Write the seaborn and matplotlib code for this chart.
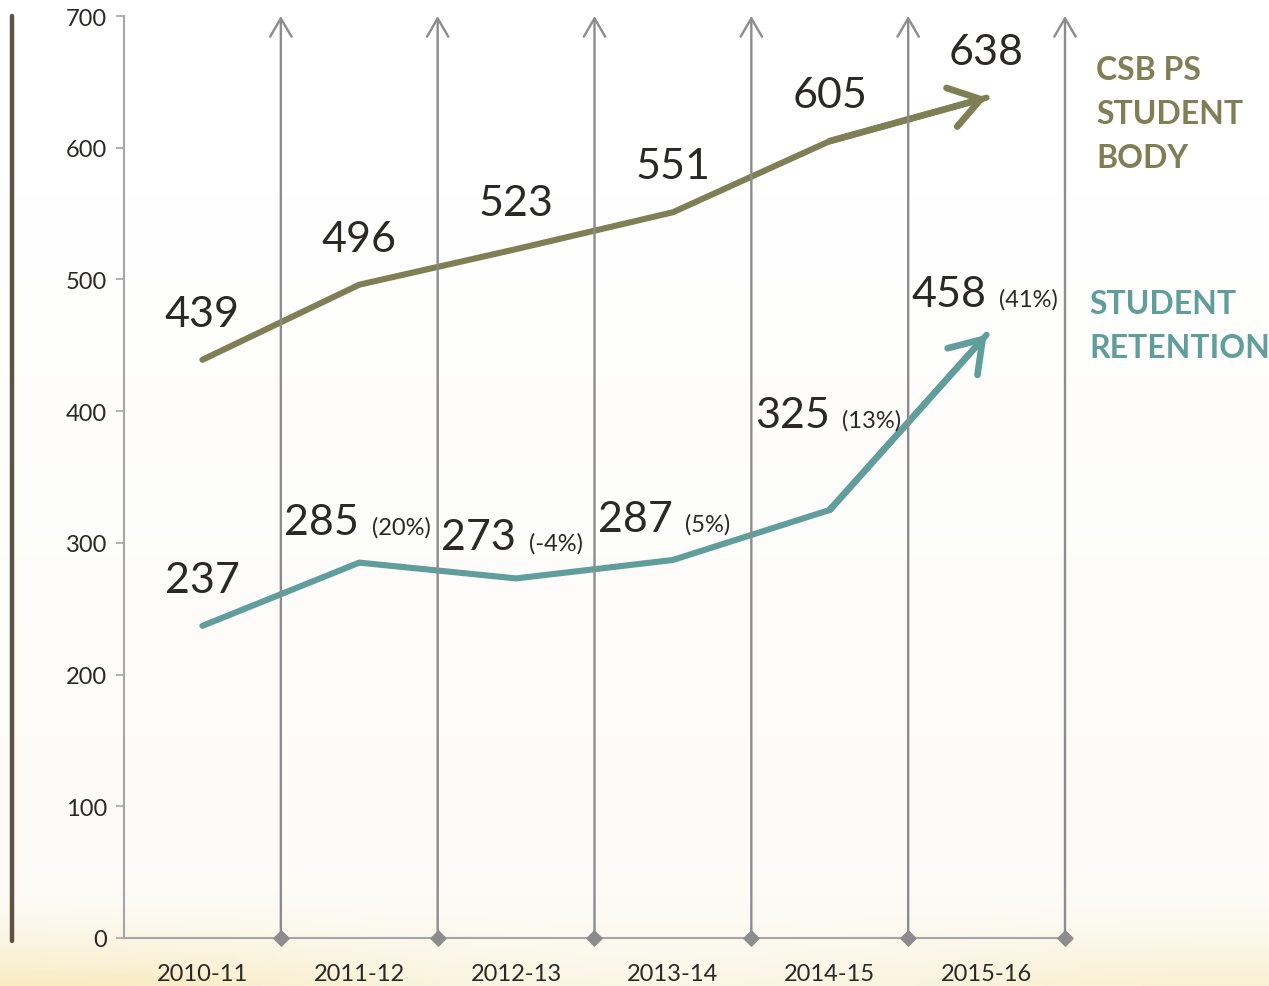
import numpy as np
import pandas as pd
import matplotlib.pyplot as plt
import seaborn as sns
from matplotlib.lines import Line2D

# data
years = ['2010-11', '2011-12', '2012-13', '2013-14', '2014-15', '2015-16']
student_body = [439, 496, 523, 551, 605, 638]
retention = [237, 285, 273, 287, 325, 458]
retention_pct = ['', '(20%)', '(-4%)', '(5%)', '(13%)', '(41%)']
y_ticks = [0, 100, 200, 300, 400, 500, 600, 700]

olive = '#7f7f55'
teal = '#5f9e9b'
grey = '#8c8c8c'
dark = '#2b2925'

sns.set_theme(style='white')
plt.rcParams['font.family'] = ['Lato', 'DejaVu Sans']

df = pd.DataFrame({'year': years, 'body': student_body, 'ret': retention})

fig = plt.figure(figsize=(12.69, 9.87), dpi=100)

# soft background wash, warm only near the bottom edge
H, W = 300, 300
t = np.linspace(0, 1, H)[:, None]
s = np.linspace(0, 1, W)[None, :]
white = np.array([1.0, 1.0, 1.0])
cream = np.array([0.99, 0.985, 0.968])
warm = np.array([0.975, 0.91, 0.72])
k1 = np.clip((t - 0.2) / 0.7, 0, 1)
k2 = np.clip((t - 0.9) / 0.1, 0, 1) ** 1.6 * (0.85 - 0.45 * np.sin(np.pi * s) ** 2 - 0.25 * s)
img = white[None, None, :] * (1 - k1[..., None]) + cream[None, None, :] * k1[..., None]
img = img * (1 - k2[..., None]) + warm[None, None, :] * k2[..., None]
bg = fig.add_axes([0, 0, 1, 1], zorder=0)
bg.imshow(img, aspect='auto', extent=[0, 1, 0, 1], origin='upper')
bg.axis('off')

ax = fig.add_axes([124 / 1269, 48 / 987, 941 / 1269, 922 / 987], zorder=1)
ax.patch.set_alpha(0)

sns.lineplot(data=df, x='year', y='body', color=olive, lw=4.4, ax=ax, sort=False)
sns.lineplot(data=df, x='year', y='ret', color=teal, lw=4.4, ax=ax, sort=False)

# arrow heads on the last segment
for vals, col in [(student_body, olive), (retention, teal)]:
    ax.annotate('', xy=(5, vals[5]), xytext=(4, vals[4]),
                arrowprops=dict(arrowstyle='->,head_length=0.6,head_width=0.4', lw=4.8,
                                color=col, shrinkA=0, shrinkB=0, capstyle='round',
                                joinstyle='round', mutation_scale=36))

ax.set_xlim(-0.5, 5.5)
ax.set_ylim(0, 700)
ax.set_yticks(y_ticks)
ax.set_xlabel('')
ax.set_ylabel('')

# vertical arrows between the years
for i in range(len(years)):
    xb = i + 0.5
    ax.annotate('', xy=(xb, 700), xytext=(xb, 0), annotation_clip=False,
                arrowprops=dict(arrowstyle='->,head_length=0.6,head_width=0.35', lw=1.7,
                                color=grey, shrinkA=0, shrinkB=0, mutation_scale=22))
    ax.scatter([xb], [0], marker='D', s=60, color=grey, zorder=5, clip_on=False)

for sp in ['top', 'right']:
    ax.spines[sp].set_visible(False)
for sp in ['left', 'bottom']:
    ax.spines[sp].set_color('#a6a6a6')
    ax.spines[sp].set_linewidth(1.5)
ax.tick_params(axis='y', which='both', left=True, length=6, width=1.2, color='#a6a6a6',
               labelsize=17, labelcolor=dark, pad=6)
ax.tick_params(axis='x', bottom=False, labelsize=17, labelcolor=dark, pad=12)

# value labels
for i, v in enumerate(student_body):
    ax.text(i, v + 35, str(v), ha='center', va='center', fontsize=31, color=dark)

for i, v in enumerate(retention):
    off = 76 if i == 4 else 35
    if retention_pct[i]:
        ax.text(i, v + off - 13, str(v), ha='right', va='baseline', fontsize=31, color=dark)
        ax.annotate(retention_pct[i], xy=(i, v + off - 13), xytext=(9, 0),
                    textcoords='offset points', ha='left', va='baseline',
                    fontsize=17, color=dark)
    else:
        ax.text(i, v + off, str(v), ha='center', va='center', fontsize=31, color=dark)

# series names on the right
fig.text(1096 / 1269, 1 - 56 / 987, 'CSB PS\nSTUDENT\nBODY', ha='left', va='top',
         fontsize=23, fontweight='bold', color=olive, linespacing=1.62)
fig.text(1089 / 1269, 1 - 290 / 987, 'STUDENT\nRETENTION', ha='left', va='top',
         fontsize=23, fontweight='bold', color=teal, linespacing=1.62)

# dark bar on the far left
fig.add_artist(Line2D([12 / 1269, 12 / 1269], [1 - 942 / 987, 1 - 17 / 987],
                      color='#5e5242', lw=3.2, transform=fig.transFigure))

fig.savefig('out.png', dpi=100)
